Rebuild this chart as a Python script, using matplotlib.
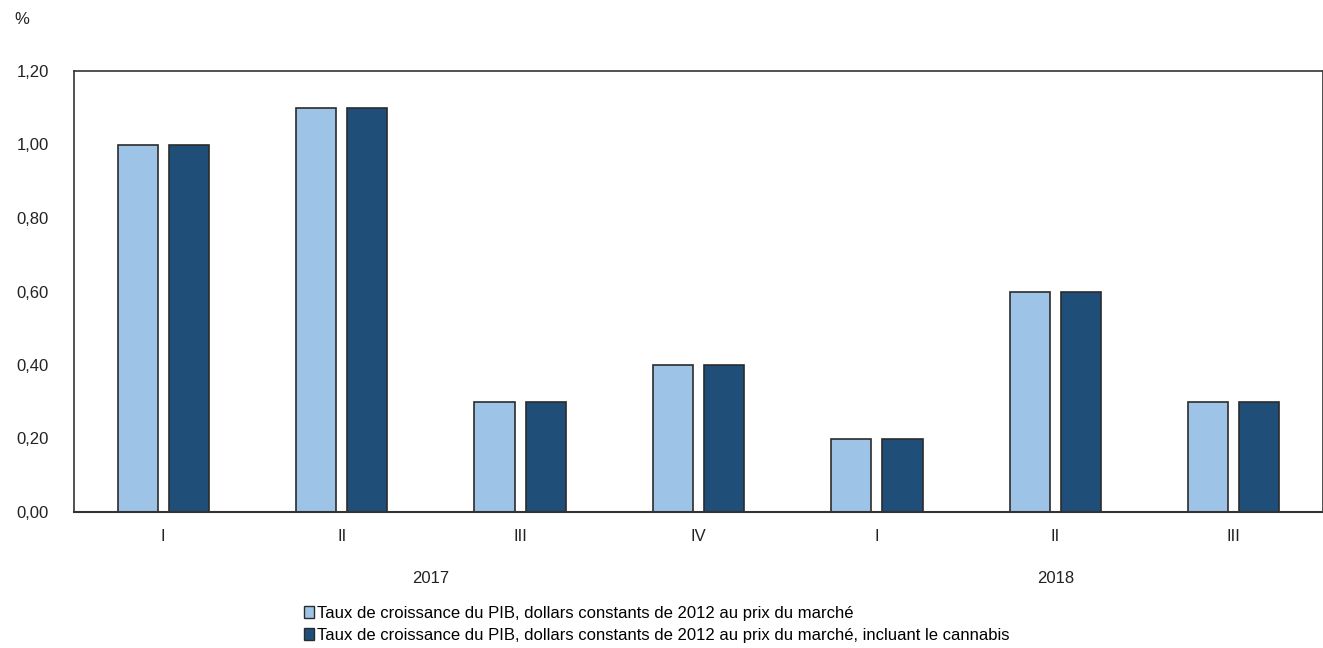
import numpy as np
from matplotlib import pyplot as plt
from matplotlib.patches import Patch

quarters = ['I', 'II', 'III', 'IV', 'I', 'II', 'III']
years = ['2017', '2018']
year_pos = [1.5, 5.0]
pib = [1.0, 1.1, 0.3, 0.4, 0.2, 0.6, 0.3]
pib_cannabis = [1.0, 1.1, 0.3, 0.4, 0.2, 0.6, 0.3]
labels = ['Taux de croissance du PIB, dollars constants de 2012 au prix du marché',
          'Taux de croissance du PIB, dollars constants de 2012 au prix du marché, incluant le cannabis']

plt.rcParams['font.family'] = ['Liberation Sans', 'DejaVu Sans']
plt.rcParams['font.size'] = 12

light = '#9dc3e6'
dark = '#1f4e79'
edge = '#2b2b2b'

fig = plt.figure(figsize=(13.23, 6.48), dpi=100)
ax = fig.add_axes([74 / 1323, 1 - 512 / 648, 1249 / 1323, 441 / 648])

x = np.arange(len(quarters))
w = 0.225
ax.bar(x - 0.143, pib, w, color=light, edgecolor=edge, linewidth=1.2)
ax.bar(x + 0.143, pib_cannabis, w, color=dark, edgecolor=edge, linewidth=1.2)

ax.set_xlim(-0.5, len(quarters) - 0.5)
ax.set_ylim(0, 1.2)
yt = np.arange(0, 1.21, 0.2)
ax.set_yticks(yt)
ax.set_yticklabels([f'{v:.2f}'.replace('.', ',') for v in yt])
ax.set_xticks(x)
ax.set_xticklabels(quarters)
ax.tick_params(axis='both', length=0, labelsize=12, colors='#222222')
ax.tick_params(axis='x', pad=12)
ax.tick_params(axis='y', pad=18)
for s in ax.spines.values():
    s.set_color('#333333')
    s.set_linewidth(1.2)
ax.spines['bottom'].set_linewidth(1.5)

# années centrées sous leurs trimestres
for yr, pos in zip(years, year_pos):
    ax.text(pos, -0.181, yr, ha='center', va='center', fontsize=12, color='#222222')

fig.text(14 / 1323, 1 - 20 / 648, '%', ha='left', va='center', fontsize=12, color='#222222')

handles = [Patch(facecolor=light, edgecolor=edge), Patch(facecolor=dark, edgecolor=edge)]
fig.legend(handles, labels, loc='upper left', bbox_to_anchor=(304 / 1323, 1 - 606 / 648),
           frameon=False, fontsize=12, handlelength=0.6, handleheight=0.7,
           handletextpad=0.2, labelspacing=0.42, borderaxespad=0, borderpad=0)

fig.savefig('out.png', dpi=100)
